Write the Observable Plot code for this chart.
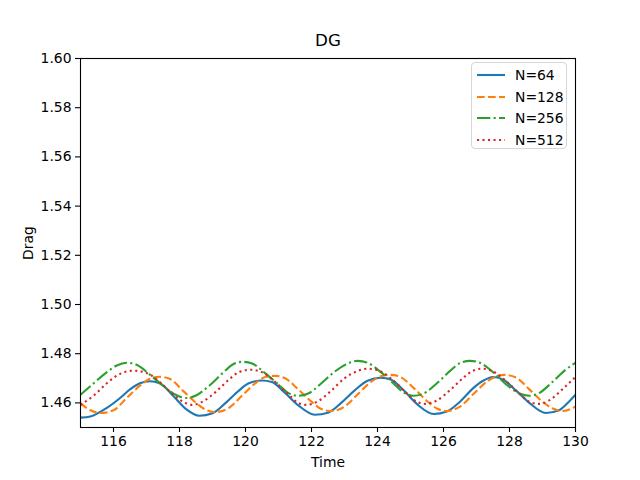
<!DOCTYPE html>
<html>
<head>
<meta charset="utf-8">
<script src="https://cdn.jsdelivr.net/npm/d3@7"></script>
<script src="https://cdn.jsdelivr.net/npm/@observablehq/plot@0.6"></script>
<style>
  body { margin: 0; background: #fff; font-family: "DejaVu Sans", sans-serif; }
  #wrap { position: relative; width: 640px; height: 480px; }
  #legend { position: absolute; left: 471px; top: 62px; width: 96px; height: 87px;
    border: 1px solid #d6d6d6; border-radius: 4px; background: rgba(255,255,255,0.8); box-sizing: border-box; }
  #legend .row { position: absolute; left: 0; height: 20px; display: flex; align-items: center; }
  #legend svg { margin-left: 5px; }
  #legend span { margin-left: 10px; font-size: 13.9px; color: #000; }
</style>
</head>
<body>
<div id="wrap"><div id="chart"></div><div id="legend"></div></div>
<script>
const seriesNames = ["N=64", "N=128", "N=256", "N=512"];
const colors = ["#1f77b4", "#ff7f0e", "#2ca02c", "#d62728"];
const dashes = [null, "7.7,3.3", "13.3,3.3,2.1,3.3", "2.1,3.4"];
const xTicks = [116, 118, 120, 122, 124, 126, 128, 130];
const yTicks = [1.46, 1.48, 1.50, 1.52, 1.54, 1.56, 1.58, 1.60];

const t64 = [115.0,115.3,115.8,116.2,116.5,116.8,117.1,117.4,117.8,118.2,118.6,119.0,119.4,119.8,120.1,120.5,120.8,121.2,121.6,122.1,122.5,122.9,123.3,123.7,124.1,124.4,124.8,125.2,125.7,126.1,126.5,126.9,127.2,127.5,127.8,128.2,128.6,129.1,129.5,129.8,130.0];
const v64 = [1.4540,1.4545,1.4580,1.4620,1.4655,1.4680,1.4688,1.4680,1.4630,1.4575,1.4548,1.4558,1.4600,1.4650,1.4680,1.4691,1.4685,1.4640,1.4590,1.4552,1.4560,1.4600,1.4650,1.4690,1.4702,1.4695,1.4650,1.4595,1.4555,1.4565,1.4605,1.4660,1.4690,1.4705,1.4695,1.4650,1.4600,1.4559,1.4570,1.4605,1.4633];

const t128 = [115.0,115.3,115.6,116.0,116.4,116.8,117.1,117.4,117.7,118.1,118.5,118.8,119.1,119.5,119.9,120.3,120.6,120.9,121.2,121.6,122.0,122.3,122.6,123.0,123.4,123.8,124.1,124.4,124.7,125.1,125.5,125.8,126.1,126.5,126.9,127.3,127.6,127.85,128.2,128.6,129.0,129.3,129.6,130.0];
const v128 = [1.4598,1.4570,1.4559,1.4570,1.4620,1.4670,1.4698,1.4706,1.4698,1.4650,1.4600,1.4572,1.4563,1.4580,1.4630,1.4680,1.4705,1.4710,1.4700,1.4655,1.4605,1.4575,1.4567,1.4585,1.4635,1.4685,1.4708,1.4714,1.4705,1.4660,1.4608,1.4577,1.4567,1.4585,1.4635,1.4685,1.4708,1.4714,1.4703,1.4655,1.4605,1.4578,1.4567,1.4585];

const t256 = [115.0,115.4,115.8,116.1,116.4,116.7,117.1,117.5,117.9,118.2,118.5,118.9,119.3,119.6,119.9,120.2,120.6,121.0,121.3,121.6,121.9,122.3,122.7,123.1,123.4,123.7,124.1,124.5,124.8,125.1,125.4,125.8,126.2,126.5,126.8,127.1,127.5,127.9,128.3,128.6,128.9,129.3,129.7,130.0];
const v256 = [1.4633,1.4680,1.4725,1.4752,1.4763,1.4755,1.4715,1.4670,1.4632,1.4620,1.4630,1.4670,1.4720,1.4755,1.4767,1.4760,1.4720,1.4675,1.4640,1.4629,1.4638,1.4680,1.4727,1.4760,1.4771,1.4763,1.4725,1.4677,1.4642,1.4629,1.4638,1.4680,1.4730,1.4762,1.4771,1.4763,1.4725,1.4675,1.4638,1.4629,1.4640,1.4685,1.4735,1.4763];

const t512 = [115.0,115.4,115.8,116.2,116.6,117.0,117.4,117.8,118.1,118.4,118.7,119.1,119.5,119.8,120.15,120.5,120.9,121.3,121.6,121.85,122.2,122.6,123.0,123.4,123.7,124.1,124.5,124.9,125.2,125.45,125.8,126.2,126.6,126.9,127.15,127.5,127.9,128.3,128.6,128.9,129.2,129.6,130.0];
const v512 = [1.4592,1.4630,1.4680,1.4718,1.4731,1.4722,1.4685,1.4635,1.4605,1.4592,1.4605,1.4645,1.4695,1.4725,1.4735,1.4725,1.4685,1.4635,1.4600,1.4592,1.4607,1.4650,1.4700,1.4730,1.4739,1.4728,1.4688,1.4637,1.4604,1.4596,1.4610,1.4652,1.4702,1.4731,1.4739,1.4728,1.4688,1.4638,1.4605,1.4596,1.4610,1.4655,1.4706];

const allT = [t64, t128, t256, t512];
const allV = [v64, v128, v256, v512];
const tables = allT.map((ts, i) => ts.map((t, j) => ({t, v: allV[i][j]})));

const font = "DejaVu Sans, sans-serif";
const lineMarks = tables.map((data, i) => Plot.line(data, {
  x: "t", y: "v", stroke: colors[i], strokeWidth: 2.1,
  strokeDasharray: dashes[i] || undefined, strokeLinecap: "butt", strokeLinejoin: "round",
  curve: "monotone-x"
}));

const chart = Plot.plot({
  width: 640, height: 480,
  marginLeft: 80, marginRight: 65, marginTop: 58, marginBottom: 53,
  style: { fontFamily: font, fontSize: "13.9px", color: "#000", background: "#fff" },
  x: { domain: [115, 130] },
  y: { domain: [1.45, 1.60] },
  marks: [
    ...lineMarks,
    Plot.frame({ stroke: "#000", strokeWidth: 1.1 }),
    Plot.axisX({ ticks: xTicks, tickSize: 5, tickPadding: 4, label: null, fontSize: 13.9, tickFormat: d3.format("d"), strokeWidth: 1.1 }),
    Plot.axisY({ ticks: yTicks, tickSize: 5, tickPadding: 4, label: null, fontSize: 13.9, tickFormat: d3.format(".2f"), strokeWidth: 1.1 }),
    Plot.text(["DG"], { text: d => d, frameAnchor: "top", dy: -18, fontSize: 16.7, textAnchor: "middle", lineAnchor: "middle" }),
    Plot.text(["Time"], { text: d => d, frameAnchor: "bottom", dy: 35, fontSize: 13.9, textAnchor: "middle", lineAnchor: "middle" }),
    Plot.text(["Drag"], { text: d => d, frameAnchor: "left", dx: -52, rotate: -90, fontSize: 13.9, textAnchor: "middle", lineAnchor: "middle" })
  ]
});
document.getElementById("chart").appendChild(chart);

const legend = document.getElementById("legend");
seriesNames.forEach((name, i) => {
  const row = document.createElement("div");
  row.className = "row";
  row.style.top = (2 + i * 21.5) + "px";
  const dash = dashes[i] ? `stroke-dasharray="${dashes[i]}"` : "";
  row.innerHTML = `<svg width="28" height="10"><line x1="0" y1="5" x2="28" y2="5" stroke="${colors[i]}" stroke-width="2.1" ${dash}/></svg><span>${name}</span>`;
  legend.appendChild(row);
});
</script>
</body>
</html>
